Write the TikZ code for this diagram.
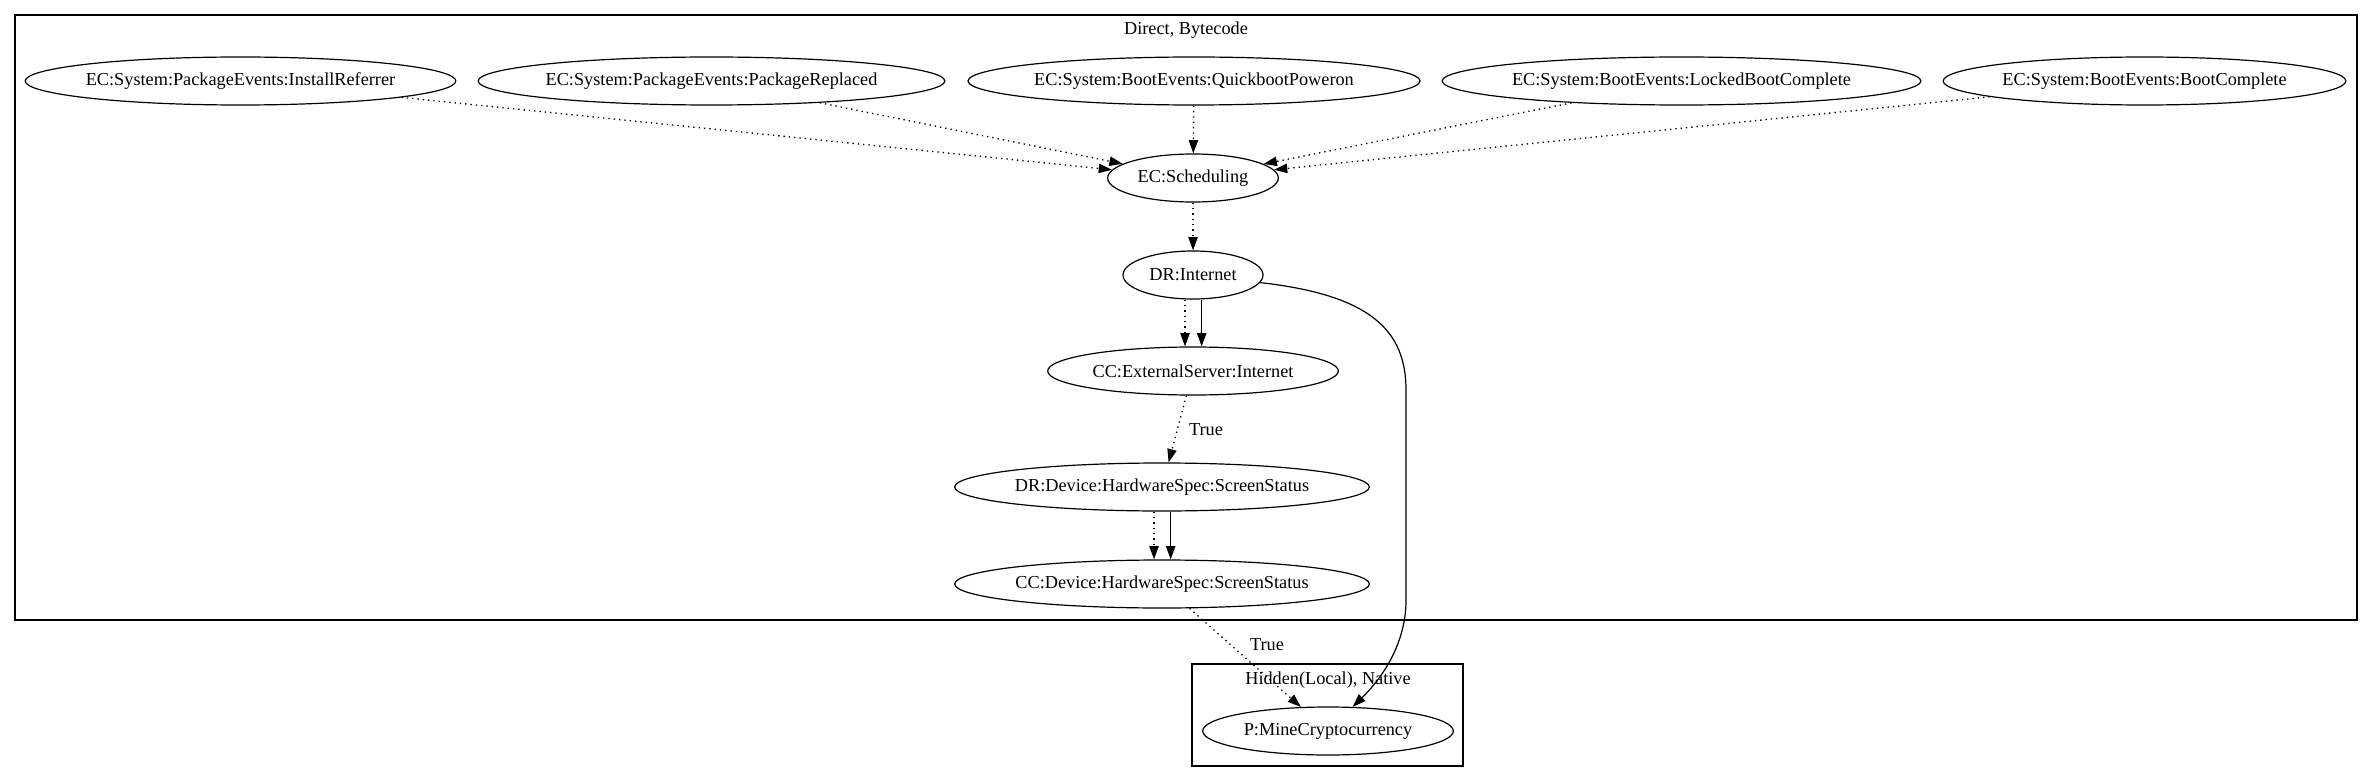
\documentclass[tikz,border=0pt]{standalone}
\usepackage{fontspec}
\setmainfont{Liberation Serif}
\usetikzlibrary{arrows.meta,shapes.geometric}
\newcommand{\ztext}[1]{\makebox[0pt]{#1}}
\begin{document}
\begin{tikzpicture}[x=0.75pt,y=-0.75pt,
  every node/.style={font=\fontsize{13.7pt}{16pt}\selectfont},
  nd/.style={draw, ellipse, line width=0.9pt, inner sep=0pt, minimum height=36pt, minimum width=#1},
  cl/.style={draw, line width=0.9pt},
  dotedge/.style={line width=1pt, dash pattern=on 1pt off 3pt, -{Triangle[length=10pt,width=7pt]}},
  soledge/.style={line width=0.9pt, -{Triangle[length=10pt,width=7pt]}},
  lbl/.style={inner sep=1pt}]
\useasboundingbox (0,0) rectangle (2373,781);
% clusters
\draw[cl] (15,15) rectangle (2357,620);
\node[lbl] (cl1) at (1186,30) {Direct, Bytecode};
\draw[cl] (1192,664) rectangle (1463,766);
\node[lbl] (cl2) at (1328,680) {Hidden(Local), Native};
% nodes
\node[nd=323pt] (ir) at (240.5,81) {\ztext{EC:System:PackageEvents:InstallReferrer}};
\node[nd=350pt] (pr) at (711.5,81) {\ztext{EC:System:PackageEvents:PackageReplaced}};
\node[nd=339pt] (qp) at (1194,81) {\ztext{EC:System:BootEvents:QuickbootPoweron}};
\node[nd=359pt] (lb) at (1681.5,81) {\ztext{EC:System:BootEvents:LockedBootComplete}};
\node[nd=302pt] (bc) at (2144.5,81) {\ztext{EC:System:BootEvents:BootComplete}};
\node[nd=128pt] (sch) at (1193,178) {\ztext{EC:Scheduling}};
\node[nd=105pt] (dri) at (1193,275) {\ztext{DR:Internet}};
\node[nd=218pt] (cei) at (1193,371) {\ztext{CC:ExternalServer:Internet}};
\node[nd=311pt] (drs) at (1162,487) {\ztext{DR:Device:HardwareSpec:ScreenStatus}};
\node[nd=311pt] (ccs) at (1162,584) {\ztext{CC:Device:HardwareSpec:ScreenStatus}};
\node[nd=188pt] (pm) at (1328,731) {\ztext{P:MineCryptocurrency}};
% edge labels
\node[lbl] (t1) at (1206,430) {True};
\node[lbl] (t2) at (1267,645) {True};
% edges
\draw[dotedge] (ir) -- (sch);
\draw[dotedge] (pr) -- (sch);
\draw[dotedge] (qp) -- (sch);
\draw[dotedge] (lb) -- (sch);
\draw[dotedge] (bc) -- (sch);
\draw[dotedge] (sch) -- (dri);
\draw[dotedge] ([xshift=-6pt]dri.south) -- ([xshift=-6pt]cei.north);
\draw[soledge] ([xshift=6.5pt]dri.south) -- ([xshift=6.5pt]cei.north);
\draw[dotedge] (cei) -- (drs);
\draw[dotedge] ([xshift=-6pt]drs.south) -- ([xshift=-6pt]ccs.north);
\draw[soledge] ([xshift=6.5pt]drs.south) -- ([xshift=6.5pt]ccs.north);
\draw[dotedge] (ccs) -- (pm);
\draw[soledge] (dri) .. controls (1370,295) and (1406,330) .. (1406,390) -- (1406,600) .. controls (1406,650) and (1375,685) .. (pm);
\end{tikzpicture}
\end{document}
